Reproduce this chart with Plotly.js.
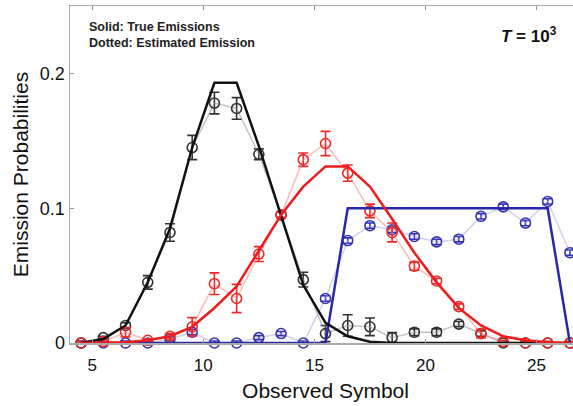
<!DOCTYPE html>
<html>
<head>
<meta charset="utf-8">
<script src="https://cdn.plot.ly/plotly-3.0.1.min.js"></script>
<style>
html,body{margin:0;padding:0;overflow:hidden;background:#fff;width:573px;height:406px;}
#chart{width:591px;height:406px;}
</style>
</head>
<body>
<div id="chart"></div>
<script>
// Observed symbols
var symbols = [4.5,5.5,6.5,7.5,8.5,9.5,10.5,11.5,12.5,13.5,14.5,15.5,16.5,17.5,18.5,19.5,20.5,21.5,22.5,23.5,24.5,25.5,26.5];

// True emissions (solid)
var blackTrue = [0,0.003,0.013,0.045,0.085,0.145,0.193,0.193,0.146,0.095,0.043,0.015,0.005,0.001,0,0,0,0,0,0,0,0,0];
var redTrue   = [0,0,0.0005,0.002,0.005,0.012,0.026,0.042,0.068,0.095,0.116,0.131,0.131,0.116,0.092,0.067,0.045,0.026,0.013,0.005,0.002,0.0005,0];
var blueTrue  = [0,0,0,0,0,0,0,0,0,0,0,0,0.1,0.1,0.1,0.1,0.1,0.1,0.1,0.1,0.1,0.1,0];

// Estimated emissions (dotted) and error bars
var blackEst = [0,0.004,0.013,0.045,0.082,0.145,0.178,0.174,0.140,0.095,0.047,0.007,0.013,0.012,0.004,0.008,0.008,0.014,0.007,0,0,0,0];
var blackErr = [0.001,0.001,0.002,0.005,0.0065,0.009,0.008,0.008,0.004,0.002,0.0055,0.006,0.008,0.0065,0.0037,0.0025,0.0025,0.002,0.002,0.001,0.001,0.001,0.001];
var redEst   = [0,0.001,0.008,0.002,0.005,0.012,0.044,0.033,0.066,0.095,0.136,0.148,0.126,0.098,0.082,0.057,0.046,0.027,0.007,0.001,0,0,0];
var redErr   = [0.001,0.001,0.0035,0.001,0.002,0.0068,0.008,0.0105,0.0055,0.002,0.005,0.009,0.006,0.005,0.007,0.003,0.002,0.002,0.003,0.001,0.001,0.001,0.001];
var blueEst  = [0,0,0,0,0.003,0.008,0,0,0.004,0.007,0,0.033,0.076,0.087,0.084,0.079,0.075,0.077,0.094,0.101,0.089,0.105,0.067];
var blueErr  = [0.0015,0.0015,0.0015,0.0015,0.0015,0.002,0.0015,0.0015,0.0015,0.0015,0.0015,0.002,0.002,0.002,0.002,0.002,0.002,0.002,0.002,0.002,0.002,0.002,0.002];

var xTicks = [5,10,15,20,25];
var yTicks = [0,0.1,0.2];
var yTickText = ['0','0.1','0.2'];

function est(y, err, lineColor, markColor) {
  return {
    x: symbols, y: y, type: 'scatter', mode: 'lines+markers', cliponaxis: false,
    line: {color: lineColor, width: 1.5},
    marker: {symbol: 'circle-open', size: 10, color: markColor, line: {width: 1.6, color: markColor}},
    error_y: {type: 'data', array: err, visible: true, color: markColor, thickness: 1.6, width: 5},
    showlegend: false, hoverinfo: 'skip'
  };
}
function tru(y, color) {
  return {
    x: symbols, y: y, type: 'scatter', mode: 'lines', cliponaxis: false,
    line: {color: color, width: 2.5},
    showlegend: false, hoverinfo: 'skip'
  };
}

var data = [
  est(blueEst, blueErr, 'rgba(160,160,225,0.5)', '#3535b2'),
  est(blackEst, blackErr, 'rgba(150,150,150,0.55)', '#333333'),
  est(redEst, redErr, 'rgba(245,120,120,0.5)', '#f02828'),
  tru(blueTrue, '#2828a8'),
  tru(blackTrue, '#111111'),
  tru(redTrue, '#ee1c1c')
];

var font = 'Liberation Sans, Arial, Helvetica, sans-serif';
var layout = {
  width: 591, height: 406,
  margin: {l: 70, r: 10, t: 6, b: 63},
  paper_bgcolor: '#fff', plot_bgcolor: '#fff',
  font: {family: font, color: '#111'},
  xaxis: {
    range: [4, 27], tickvals: xTicks, ticks: 'inside', ticklen: 4, tickcolor: '#999',
    showline: true, linecolor: '#aaa', linewidth: 1.5, mirror: 'ticks',
    showgrid: false, zeroline: false, ticklabelstandoff: 6,
    tickfont: {size: 17, family: font, color: '#111'},
    title: {text: 'Observed Symbol', font: {size: 21, family: font, color: '#111'}, standoff: 9}
  },
  yaxis: {
    range: [0, 0.25], tickvals: yTicks, ticktext: yTickText, ticks: 'inside', ticklen: 4, tickcolor: '#999',
    showline: true, linecolor: '#aaa', linewidth: 1.5, mirror: 'ticks',
    showgrid: false, zeroline: false,
    tickfont: {size: 18, family: font, color: '#111'},
    title: {text: 'Emission Probabilities', font: {size: 21, family: font, color: '#111'}, standoff: 5}
  },
  annotations: [
    {xref: 'paper', yref: 'paper', x: 0.033, y: 0.965, xanchor: 'left', yanchor: 'top', showarrow: false, align: 'left',
     text: '<b>Solid: True Emissions<br>Dotted: Estimated Emission</b>', font: {size: 12.5, family: font, color: '#222'}},
    {xref: 'x', yref: 'paper', x: 23.3, y: 0.915, xanchor: 'left', yanchor: 'middle', showarrow: false,
     text: '<b><i>T</i> = 10<sup>3</sup></b>', font: {size: 17, family: font, color: '#111'}}
  ]
};

Plotly.newPlot('chart', data, layout, {staticPlot: true, displayModeBar: false});
</script>
</body>
</html>
